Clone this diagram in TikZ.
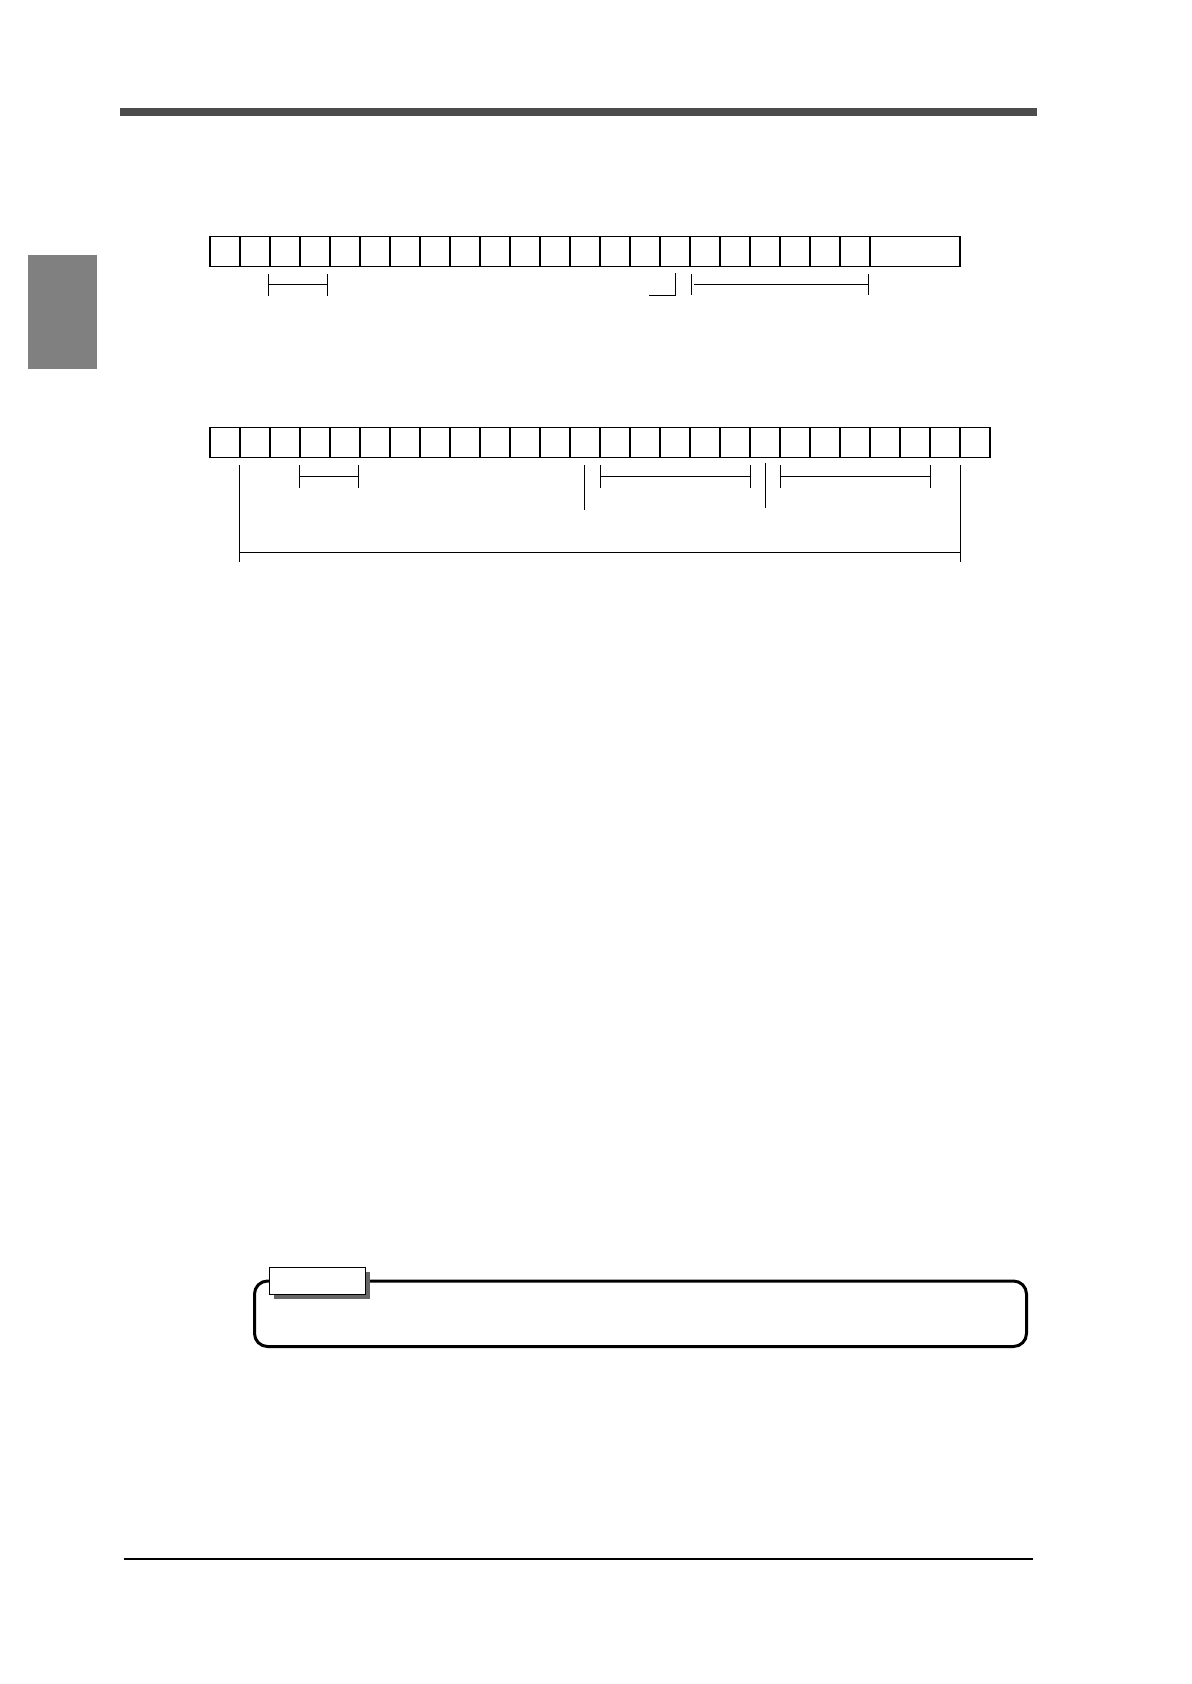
\documentclass[tikz,border=0pt]{standalone}
\begin{document}
\begin{tikzpicture}[x=0.5pt,y=-0.5pt,
  cell/.style={draw=black, line width=0.55pt, minimum width=15pt, minimum height=15pt, inner sep=0pt, outer sep=0pt, anchor=north west},
  brk/.style={draw=black, line width=0.55pt},
  notelabel/.style={draw=black, fill=white, line width=0.5pt, minimum width=48.2pt, minimum height=13.5pt, inner sep=0pt, outer sep=0pt, anchor=north west}
]
\useasboundingbox[fill=white] (0,0) rectangle (1191,1684);
% header bar and side tab
\fill[fill=black!70] (120,108.5) rectangle (1037,116.5);
\fill[black!50] (28,255) rectangle (97,369);
% row 1 of cells
\foreach \i in {0,...,21} \node[cell] (a\i) at ({210+30*\i},236.5) {};
\node[cell, minimum width=45pt] (a22) at (870,236.5) {};
% row 1 brackets
\draw[brk] (268.8,274.3) -- (268.8,295.7) (268.8,284.3) -- (327.8,284.3) (327.8,274.3) -- (327.8,295.7);
\draw[brk] (649.3,295.5) -- (675.3,295.5) -- (675.3,273.5);
\draw[brk] (691.5,274) -- (691.5,295.5);
\draw[brk] (694.3,284.3) -- (868.3,284.3) (868.3,274) -- (868.3,295.5);
% row 2 of cells
\foreach \i in {0,...,25} \node[cell] (b\i) at ({210+30*\i},427.3) {};
% row 2 brackets
\draw[brk] (239.3,465) -- (239.3,561.7) (239.3,552.7) -- (960.3,552.7) (960.3,465) -- (960.3,561.7);
\draw[brk] (299.3,465) -- (299.3,487.5) (299.3,476.3) -- (358.5,476.3) (358.5,465) -- (358.5,487.5);
\draw[brk] (584.3,465) -- (584.3,509.5);
\draw[brk] (600.5,465) -- (600.5,487.5) (600.5,476.3) -- (750.3,476.3) (750.3,465) -- (750.3,487.5);
\draw[brk] (765.3,463) -- (765.3,507.5);
\draw[brk] (780.5,465) -- (780.5,487.5) (780.5,476.3) -- (930.3,476.3) (930.3,465) -- (930.3,487.5);
% note box
\draw[line width=1.5pt, rounded corners=6.5pt] (254.5,1281) rectangle (1026.5,1346.5);
\fill[black!60] (274,1272) rectangle (370,1299);
\node[notelabel] (note) at (269.3,1267.3) {};
% footer line
\draw[line width=1.1pt] (123.5,1559) -- (1033,1559);
\end{tikzpicture}
\end{document}
